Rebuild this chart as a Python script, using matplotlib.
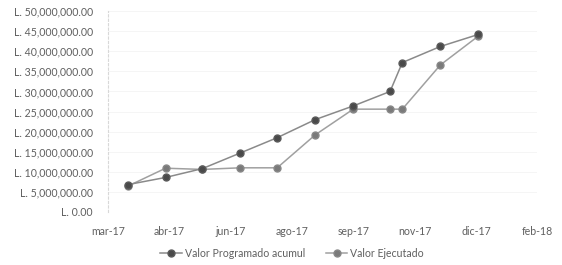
import datetime as dt
import matplotlib
matplotlib.use('Agg')
import matplotlib.pyplot as plt
from matplotlib.ticker import FuncFormatter, MultipleLocator

plt.rcParams['font.family'] = ['Lato', 'DejaVu Sans']

### data (values in lempiras)
fechas = ['2017-03-20', '2017-04-20', '2017-05-20', '2017-06-20', '2017-07-20',
          '2017-08-20', '2017-09-20', '2017-10-20', '2017-10-30', '2017-11-30',
          '2017-12-31']
programado = [6.8e6, 8.6e6, 10.8e6, 14.7e6, 18.5e6, 23.0e6, 26.4e6, 30.0e6,
              37.2e6, 41.2e6, 44.2e6]
ejecutado = [6.4e6, 10.9e6, 10.6e6, 11.0e6, 11.0e6, 19.2e6, 25.6e6, 25.6e6,
             25.6e6, 36.6e6, 43.8e6]
tick_labels = ['mar-17', 'abr-17', 'jun-17', 'ago-17', 'sep-17', 'nov-17',
               'dic-17', 'feb-18']

x = [dt.datetime.strptime(f, '%Y-%m-%d') for f in fechas]
start = dt.datetime(2017, 3, 4)
tick_dates = [start + dt.timedelta(days=50 * k) for k in range(len(tick_labels))]

fig = plt.figure(figsize=(5.62, 2.65), dpi=100)
ax = fig.add_axes([0.192, 0.2, 0.764, 0.758])

ax.plot(x, programado, color='#8a8a8a', lw=1.1, marker='o', ms=5,
        mfc='#4a4a4a', mec='#5a5a5a', label='Valor Programado acumul', zorder=3)
ax.plot(x, ejecutado, color='#a0a0a0', lw=1.1, marker='o', ms=5,
        mfc='#7a7a7a', mec='#888888', label='Valor Ejecutado', zorder=2)

ax.set_ylim(0, 50e6)
ax.yaxis.set_major_locator(MultipleLocator(5e6))
ax.yaxis.set_major_formatter(FuncFormatter(lambda v, p: 'L. {:,.2f}'.format(v)))
ax.set_xlim(tick_dates[0], tick_dates[-1])
ax.set_xticks(tick_dates)
ax.set_xticklabels(tick_labels)

ax.grid(axis='y', color='#f4f4f4', lw=0.6)
ax.set_axisbelow(True)
for s in ['top', 'right', 'bottom']:
    ax.spines[s].set_visible(False)
ax.spines['left'].set_color('#d8d8d8')
ax.spines['left'].set_linestyle((0, (2, 2)))
ax.spines['left'].set_linewidth(0.8)
ax.tick_params(length=0, labelsize=7.6, labelcolor='#606060')
ax.tick_params(axis='x', pad=10)
ax.tick_params(axis='y', pad=11)

fig.legend(loc='center', bbox_to_anchor=(0.52, 0.045), ncol=2, frameon=False,
           fontsize=7.6, labelcolor='#606060', handlelength=2.0,
           columnspacing=2.0, handletextpad=0.3)

fig.savefig('out.png', dpi=100, facecolor='white')
